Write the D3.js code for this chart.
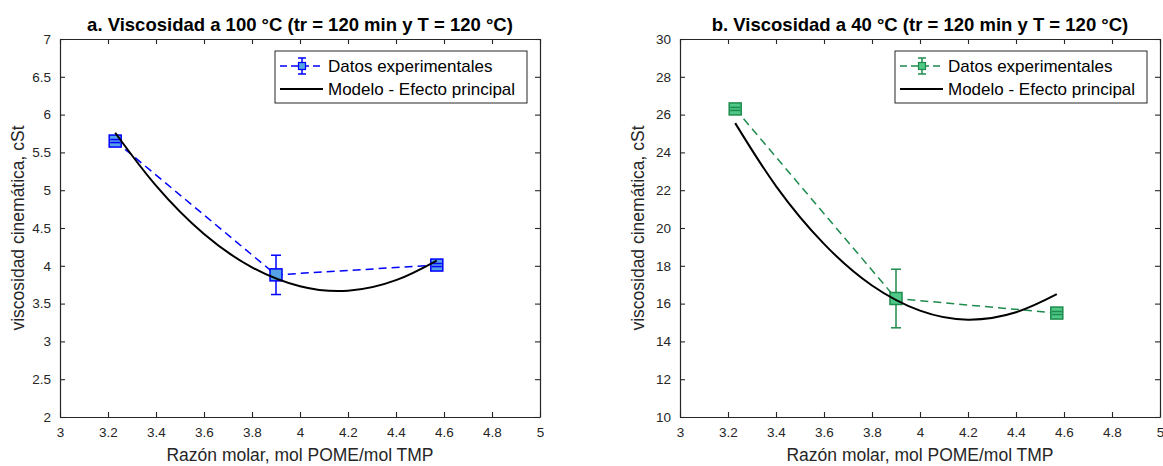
<!DOCTYPE html>
<html>
<head>
<meta charset="utf-8">
<script src="https://cdn.jsdelivr.net/npm/d3@7"></script>
<style>
  html, body { margin: 0; padding: 0; background: #fff; }
  svg { display: block; font-family: 'Liberation Sans', Arial, Helvetica, sans-serif; }
</style>
</head>
<body>
<div id="chart"></div>
<script>
// molar ratio of the three experiments (shared by both panels)
const ratios = [3.23, 3.9, 4.57]

// panel a: viscosity at 100 °C
const viscA = [5.65, 3.88, 4.01]
const errA = [0.02, 0.26, 0.02]
// panel b: viscosity at 40 °C
const viscB = [26.3, 16.27, 15.5]
const errB = [0.08, 1.55, 0.08]

// main-effect model curve at these ratios
const modelX = [3.23, 3.4, 3.6, 3.8, 4.0, 4.2, 4.4, 4.57]
const modelA = [5.76, 5.06, 4.42, 3.98, 3.73, 3.67, 3.81, 4.07]
const modelB = [25.55, 22.22, 19.16, 16.96, 15.63, 15.15, 15.54, 16.5]

const titles = [
  'a. Viscosidad a 100 °C (tr = 120 min y T = 120 °C)',
  'b. Viscosidad a 40 °C (tr = 120 min y T = 120 °C)'
]
const legendLabels = ['Datos experimentales', 'Modelo - Efecto principal']
const xLabel = 'Razón molar, mol POME/mol TMP'
const yLabel = 'viscosidad cinemática, cSt'

const W = 1163
const H = 466
const AX = '#262626'

const svg = d3.select('#chart').append('svg')
  .attr('width', W)
  .attr('height', H)

const panels = [
  { left: 60, yDomain: [2, 7], yStep: 0.5, values: viscA, errors: errA, model: modelA,
    title: titles[0], line: '#0000ff', fill: '#55a3e6', edge: '#0000ff' },
  { left: 680, yDomain: [10, 30], yStep: 2, values: viscB, errors: errB, model: modelB,
    title: titles[1], line: '#1e8b4d', fill: '#4fc888', edge: '#1e8b4d' }
]

const plotTop = 39
const pw = 480
const ph = 378

panels.forEach((p) => {
  const g = svg.append('g').attr('transform', `translate(${p.left},${plotTop})`)
  const x = d3.scaleLinear().domain([3, 5]).range([0, pw])
  const y = d3.scaleLinear().domain(p.yDomain).range([ph, 0])

  const xt = d3.range(3, 5.0001, 0.2).map((v) => +v.toFixed(1))
  const yt = d3.range(p.yDomain[0], p.yDomain[1] + 1e-6, p.yStep).map((v) => +v.toFixed(1))

  // axes: bottom/left with labels, top/right ticks only, all ticks inward
  const fmt = (d) => d3.format('~g')(d)
  g.append('g').attr('transform', `translate(0,${ph})`)
    .call(d3.axisBottom(x).tickValues(xt).tickFormat(fmt).tickSizeInner(-5).tickSizeOuter(0).tickPadding(10))
  g.append('g')
    .call(d3.axisTop(x).tickValues(xt).tickFormat('').tickSizeInner(-5).tickSizeOuter(0))
  g.append('g')
    .call(d3.axisLeft(y).tickValues(yt).tickFormat(fmt).tickSizeInner(-5).tickSizeOuter(0).tickPadding(9))
  g.append('g').attr('transform', `translate(${pw},0)`)
    .call(d3.axisRight(y).tickValues(yt).tickFormat('').tickSizeInner(-5).tickSizeOuter(0))

  g.selectAll('.domain').attr('stroke', AX).attr('stroke-width', 1.2)
  g.selectAll('.tick line').attr('stroke', AX).attr('stroke-width', 1.1)
  g.selectAll('.tick text').attr('fill', AX).attr('font-size', 13.5)
    .attr('font-family', "'Liberation Sans', Arial, sans-serif")

  // title and axis labels
  g.append('text')
    .attr('x', pw / 2).attr('y', -8)
    .attr('text-anchor', 'middle')
    .attr('font-weight', 'bold')
    .attr('font-size', 18.5)
    .attr('fill', '#000')
    .text(p.title)

  g.append('text')
    .attr('x', pw / 2).attr('y', ph + 44)
    .attr('text-anchor', 'middle')
    .attr('font-size', 17.5)
    .attr('fill', AX)
    .text(xLabel)

  g.append('text')
    .attr('transform', `translate(-36,${ph / 2}) rotate(-90)`)
    .attr('text-anchor', 'middle')
    .attr('font-size', 17.5)
    .attr('fill', AX)
    .text(yLabel)

  // experimental data: dashed line, error bars, square markers
  const pts = ratios.map((v, i) => ({ x: v, y: p.values[i], e: p.errors[i] }))
  g.append('path')
    .datum(pts)
    .attr('d', d3.line().x((d) => x(d.x)).y((d) => y(d.y)))
    .attr('fill', 'none')
    .attr('stroke', p.line)
    .attr('stroke-width', 1.5)
    .attr('stroke-dasharray', '8,5')

  g.selectAll('.err').data(pts).join('line')
    .attr('x1', (d) => x(d.x)).attr('x2', (d) => x(d.x))
    .attr('y1', (d) => y(d.y - d.e)).attr('y2', (d) => y(d.y + d.e))
    .attr('stroke', p.line).attr('stroke-width', 1.5)

  g.selectAll('.mk').data(pts).join('rect')
    .attr('x', (d) => x(d.x) - 6).attr('y', (d) => y(d.y) - 6)
    .attr('width', 12).attr('height', 12)
    .attr('fill', p.fill)
    .attr('stroke', p.edge)
    .attr('stroke-width', 1.5)

  pts.forEach((d) => {
    [d.y - d.e, d.y + d.e].forEach((v) => {
      g.append('line')
        .attr('x1', x(d.x) - 5).attr('x2', x(d.x) + 5)
        .attr('y1', y(v)).attr('y2', y(v))
        .attr('stroke', p.line).attr('stroke-width', 1.5)
    })
  })

  // model curve, drawn over the markers
  const curve = d3.line()
    .x((d) => x(d[0]))
    .y((d) => y(d[1]))
    .curve(d3.curveNatural)
  g.append('path')
    .datum(modelX.map((v, i) => [v, p.model[i]]))
    .attr('d', curve)
    .attr('fill', 'none')
    .attr('stroke', '#000')
    .attr('stroke-width', 2)

  // legend
  const lw = 252
  const lh = 52
  const lg = g.append('g').attr('transform', `translate(${pw - 13 - lw},12)`)
  lg.append('rect')
    .attr('width', lw).attr('height', lh)
    .attr('fill', '#fff').attr('stroke', AX).attr('stroke-width', 1)

  const r1 = 15
  const r2 = 38
  lg.append('line')
    .attr('x1', 5).attr('x2', 48).attr('y1', r1).attr('y2', r1)
    .attr('stroke', p.line).attr('stroke-width', 1.5).attr('stroke-dasharray', '7,4')
  lg.append('line')
    .attr('x1', 27).attr('x2', 27).attr('y1', r1 - 8).attr('y2', r1 + 8)
    .attr('stroke', p.line).attr('stroke-width', 1.5)
  ;[r1 - 8, r1 + 8].forEach((v) => {
    lg.append('line')
      .attr('x1', 23).attr('x2', 31).attr('y1', v).attr('y2', v)
      .attr('stroke', p.line).attr('stroke-width', 1.5)
  })
  lg.append('rect')
    .attr('x', 23.5).attr('y', r1 - 3.5).attr('width', 7).attr('height', 7)
    .attr('fill', p.fill).attr('stroke', p.edge).attr('stroke-width', 1.2)
  lg.append('line')
    .attr('x1', 5).attr('x2', 48).attr('y1', r2).attr('y2', r2)
    .attr('stroke', '#000').attr('stroke-width', 2)

  lg.selectAll('.lt').data(legendLabels).join('text')
    .attr('x', 53)
    .attr('y', (d, i) => (i === 0 ? r1 : r2) + 6)
    .attr('font-size', 17)
    .attr('fill', '#000')
    .text((d) => d)
})
</script>
</body>
</html>
